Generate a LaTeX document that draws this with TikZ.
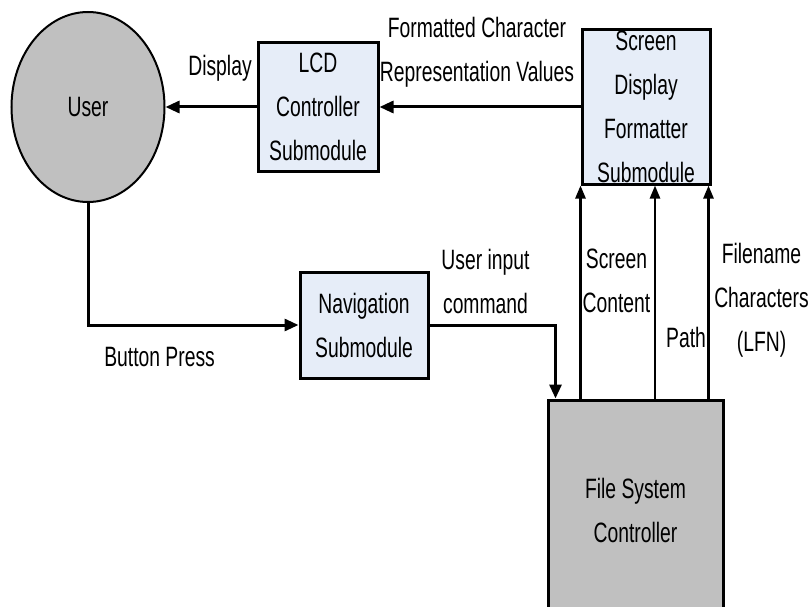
\documentclass[tikz,border=0pt]{standalone}
\usepackage{fontspec}
\setmainfont{Liberation Sans}[FakeStretch=0.69]
\usepackage{xcolor}
\usetikzlibrary{positioning, arrows.meta, shapes.geometric}
\definecolor{modfill}{RGB}{230,237,248}
\definecolor{ctrlgray}{RGB}{192,192,192}

\begin{document}
\begin{tikzpicture}[x=1pt, y=-1pt, font=\fontsize{28}{44}\selectfont,
  module/.style={draw, line width=3pt, fill=modfill, inner sep=0pt, align=center},
  flow/.style={-{Triangle[length=14pt, width=12pt]}, line width=3pt},
  feed/.style={-{Triangle[length=13pt, width=10pt]}, line width=2.5pt},
  lbl/.style={inner sep=0pt, align=center}]
  \clip (0,0) rectangle (808,607);
  \node[draw, ellipse, fill=ctrlgray, line width=2pt, minimum width=153pt, minimum height=190pt] (user) at (88,107) {User};
  \node[module, minimum width=120pt, minimum height=128pt] (lcd) at (318,107) {LCD\\Controller\\Submodule};
  \node[module, minimum width=128pt, minimum height=154pt] (sdf) at (646,107) {Screen\\Display\\Formatter\\Submodule};
  \node[module, minimum width=128pt, minimum height=106pt] (nav) at (364,325) {Navigation\\Submodule};
  \node[draw, line width=3pt, fill=ctrlgray, minimum width=175pt, minimum height=220pt, align=center] (fsc) at (635.5,510) {File System\\Controller};

  \draw[flow] (sdf) -- node[lbl, xshift=-3pt, yshift=55pt] (fmtlbl) {Formatted Character\\Representation Values} (lcd);
  \draw[flow] (lcd) -- node[lbl, xshift=9pt, yshift=39pt] (displbl) {Display} (user);
  \draw[flow] (user) |- node[lbl, pos=0.67, yshift=-32pt] (btnlbl) {Button Press} (nav);
  \draw[flow] (nav) -| node[lbl, pos=0.25, xshift=-7pt, yshift=44pt] (cmdlbl) {User input\\command} ([xshift=9pt]fsc.north west);

  \draw[feed] (sdf.south west |- fsc.north) -- node[lbl, xshift=36pt, yshift=11pt] (scrlbl) {Screen\\Content} (sdf.south west);
  \draw[feed] ([xshift=9pt]sdf.south |- fsc.north) -- node[lbl, xshift=31pt, yshift=-45pt] (pathlbl) {Path} ([xshift=9pt]sdf.south);
  \draw[feed] ([xshift=-3pt]sdf.south east |- fsc.north) -- node[lbl, xshift=53pt, yshift=-8pt] (lfnlbl) {Filename\\Characters\\(LFN)} ([xshift=-3pt]sdf.south east);
\end{tikzpicture}
\end{document}
